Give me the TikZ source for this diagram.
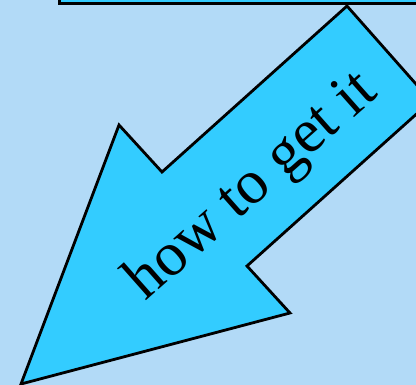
\documentclass[tikz,border=0pt]{standalone}
\usepackage{fontspec}
\setmainfont{Liberation Serif}
\definecolor{bgblue}{RGB}{178,218,247}
\definecolor{arrowcyan}{RGB}{51,204,255}
\begin{document}
\begin{tikzpicture}[x=1pt,y=-1pt,
  shapeline/.style={draw=black,line width=2.8pt,line join=miter,fill=arrowcyan},
  labeltext/.style={font=\fontsize{62}{62}\selectfont,inner sep=0pt,anchor=base,rotate=41.5}]
\useasboundingbox (0,0) rectangle (416,385);
\fill[bgblue] (0,0) rectangle (416,385);
\begin{scope}
\clip (0,0) rectangle (416,385);
\node[shapeline,rectangle,minimum width=400pt,minimum height=40pt,anchor=south west,inner sep=0pt] (topbox) at (58,5) {};
\coordinate (tailtop) at (347,6);
\coordinate (tailright) at (431,101);
\coordinate (notchright) at (247,266);
\coordinate (barbright) at (290,313);
\coordinate (tip) at (21,384);
\coordinate (barbleft) at (119,125);
\coordinate (notchleft) at (162,172);
\draw[shapeline] (tailtop) -- (tailright) -- (notchright) -- (barbright) -- (tip) -- (barbleft) -- (notchleft) -- cycle;
\node[labeltext] (label) at (262.5,198.5) {how to get it};
\end{scope}
\end{tikzpicture}
\end{document}
